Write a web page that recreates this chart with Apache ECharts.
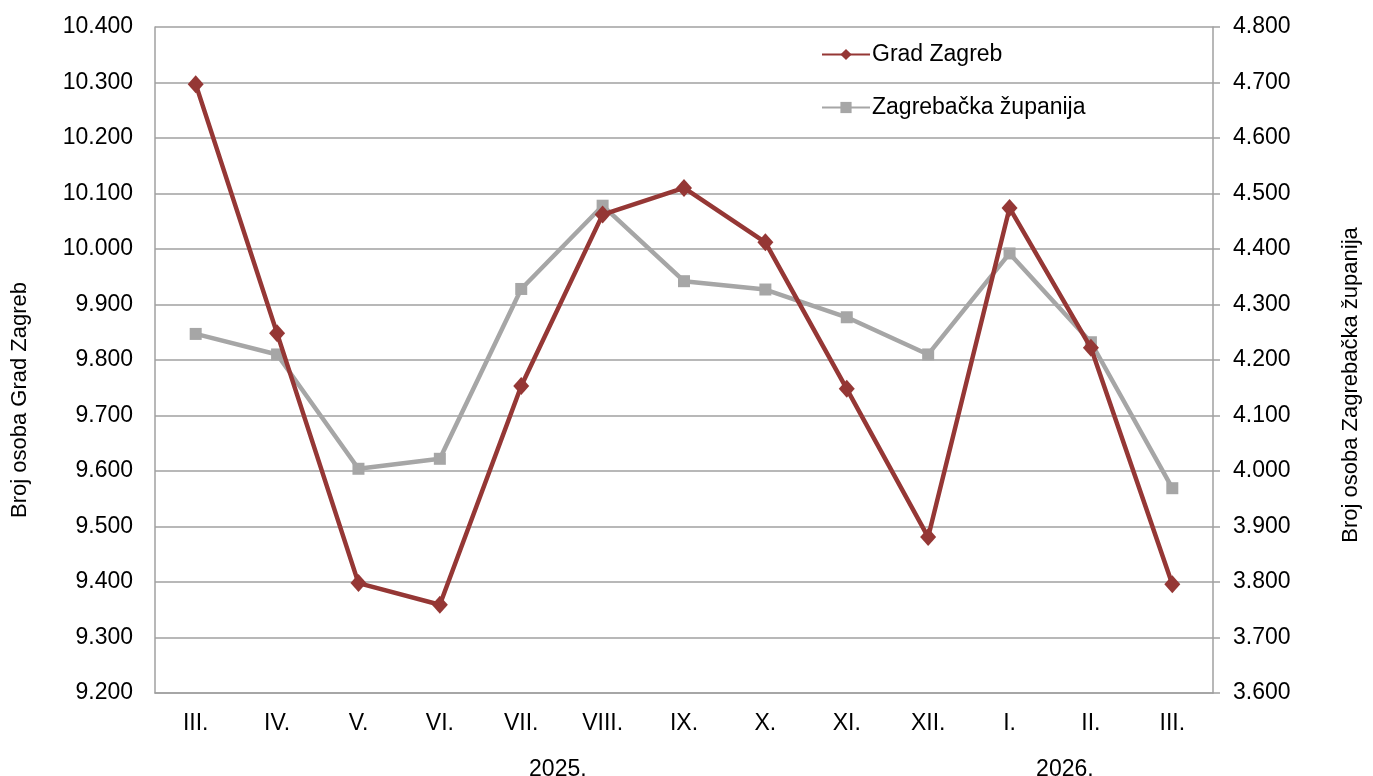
<!DOCTYPE html>
<html><head><meta charset="utf-8">
<script src="https://cdn.jsdelivr.net/npm/echarts@6/dist/echarts.min.js"></script>
<style>html,body{margin:0;padding:0;background:#fff}#c{width:1373px;height:776px}</style>
</head><body><div id="c"></div>
<script>
const months = ['III.','IV.','V.','VI.','VII.','VIII.','IX.','X.','XI.','XII.','I.','II.','III.'];
const gradZagreb = [10297, 9848, 9398, 9359, 9753, 10062, 10110, 10012, 9748, 9481, 10074, 9822, 9396];
const zagrebackaZupanija = [4247, 4210, 4004, 4022, 4328, 4478, 4342, 4327, 4277, 4210, 4392, 4232, 3969];
const yearLabels = ['2025.', '2026.'];
const yearPositions = [4.45, 10.68];

const fmt = v => {
  const s = String(Math.round(v));
  return s.replace(/\B(?=(\d{3})+(?!\d))/g, '.');
};
const FONT = 'Liberation Sans, Arial, sans-serif';
const txt = {color:'#000', fontFamily: FONT, fontSize: 23};

const chart = echarts.init(document.getElementById('c'), null, {renderer:'canvas'});
chart.setOption({
  animation: false,
  textStyle: {fontFamily: FONT},
  grid: {left: 155, right: 160, top: 27, bottom: 83, containLabel: false, outerBoundsMode: 'none'},
  legend: {
    orient: 'vertical', left: 816, top: 38,
    itemWidth: 48, itemHeight: 14, itemGap: 30,
    textStyle: Object.assign({}, txt, {padding:[0,0,0,-3]}),
    data: ['Grad Zagreb', 'Zagrebačka županija']
  },
  xAxis: [{
    type: 'category', data: months, boundaryGap: true,
    axisLine: {onZero: false, lineStyle: {color: '#A0A0A0', width: 1.5}},
    axisTick: {show: false},
    axisLabel: Object.assign({}, txt, {margin: 19}),
    splitLine: {show: false}
  }, {
    type: 'value', min: -0.5, max: 12.5, position: 'bottom', offset: 45,
    axisLine: {show: false, onZero: false}, axisTick: {show: false}, splitLine: {show: false},
    axisLabel: Object.assign({}, txt, {
      margin: 20,
      customValues: yearPositions,
      formatter: v => { const i = yearPositions.findIndex(p => Math.abs(p - v) < 1e-6); return i >= 0 ? yearLabels[i] : ''; }
    })
  }],
  yAxis: [{
    type: 'value', min: 9200, max: 10400, interval: 100, position: 'left',
    name: 'Broj osoba Grad Zagreb', nameLocation: 'middle', nameGap: 124, nameRotate: 90,
    nameTextStyle: Object.assign({}, txt, {fontSize: 22, padding: [0, 80, 0, 0]}),
    axisLine: {show: true, onZero: false, lineStyle: {color: '#A0A0A0', width: 1.5}},
    axisTick: {show: false},
    axisLabel: Object.assign({}, txt, {margin: 22, formatter: fmt}),
    splitLine: {lineStyle: {color: '#A0A0A0', width: 1.5}}
  }, {
    type: 'value', min: 3600, max: 4800, interval: 100, position: 'right',
    name: 'Broj osoba Zagrebačka županija', nameLocation: 'middle', nameGap: 127, nameRotate: 90,
    nameTextStyle: Object.assign({}, txt, {fontSize: 22, padding: [0, 50, 0, 0]}),
    axisLine: {show: true, onZero: false, lineStyle: {color: '#A0A0A0', width: 1.5}},
    axisTick: {show: true, inside: false, length: 7, lineStyle: {color: '#A0A0A0', width: 1.5}},
    axisLabel: Object.assign({}, txt, {margin: 20, formatter: fmt}),
    splitLine: {show: false}
  }],
  series: [{
    name: 'Grad Zagreb', type: 'line', yAxisIndex: 0, data: gradZagreb,
    symbol: 'diamond', symbolSize: [16, 18], showAllSymbol: true,
    lineStyle: {color: '#953735', width: 4.5},
    itemStyle: {color: '#953735', borderWidth: 0},
    z: 3
  }, {
    name: 'Zagrebačka županija', type: 'line', yAxisIndex: 1, data: zagrebackaZupanija,
    symbol: 'rect', symbolSize: 12, showAllSymbol: true,
    lineStyle: {color: '#A6A6A6', width: 4.5},
    itemStyle: {color: '#A6A6A6', borderWidth: 0},
    z: 2
  }]
});
</script></body></html>
